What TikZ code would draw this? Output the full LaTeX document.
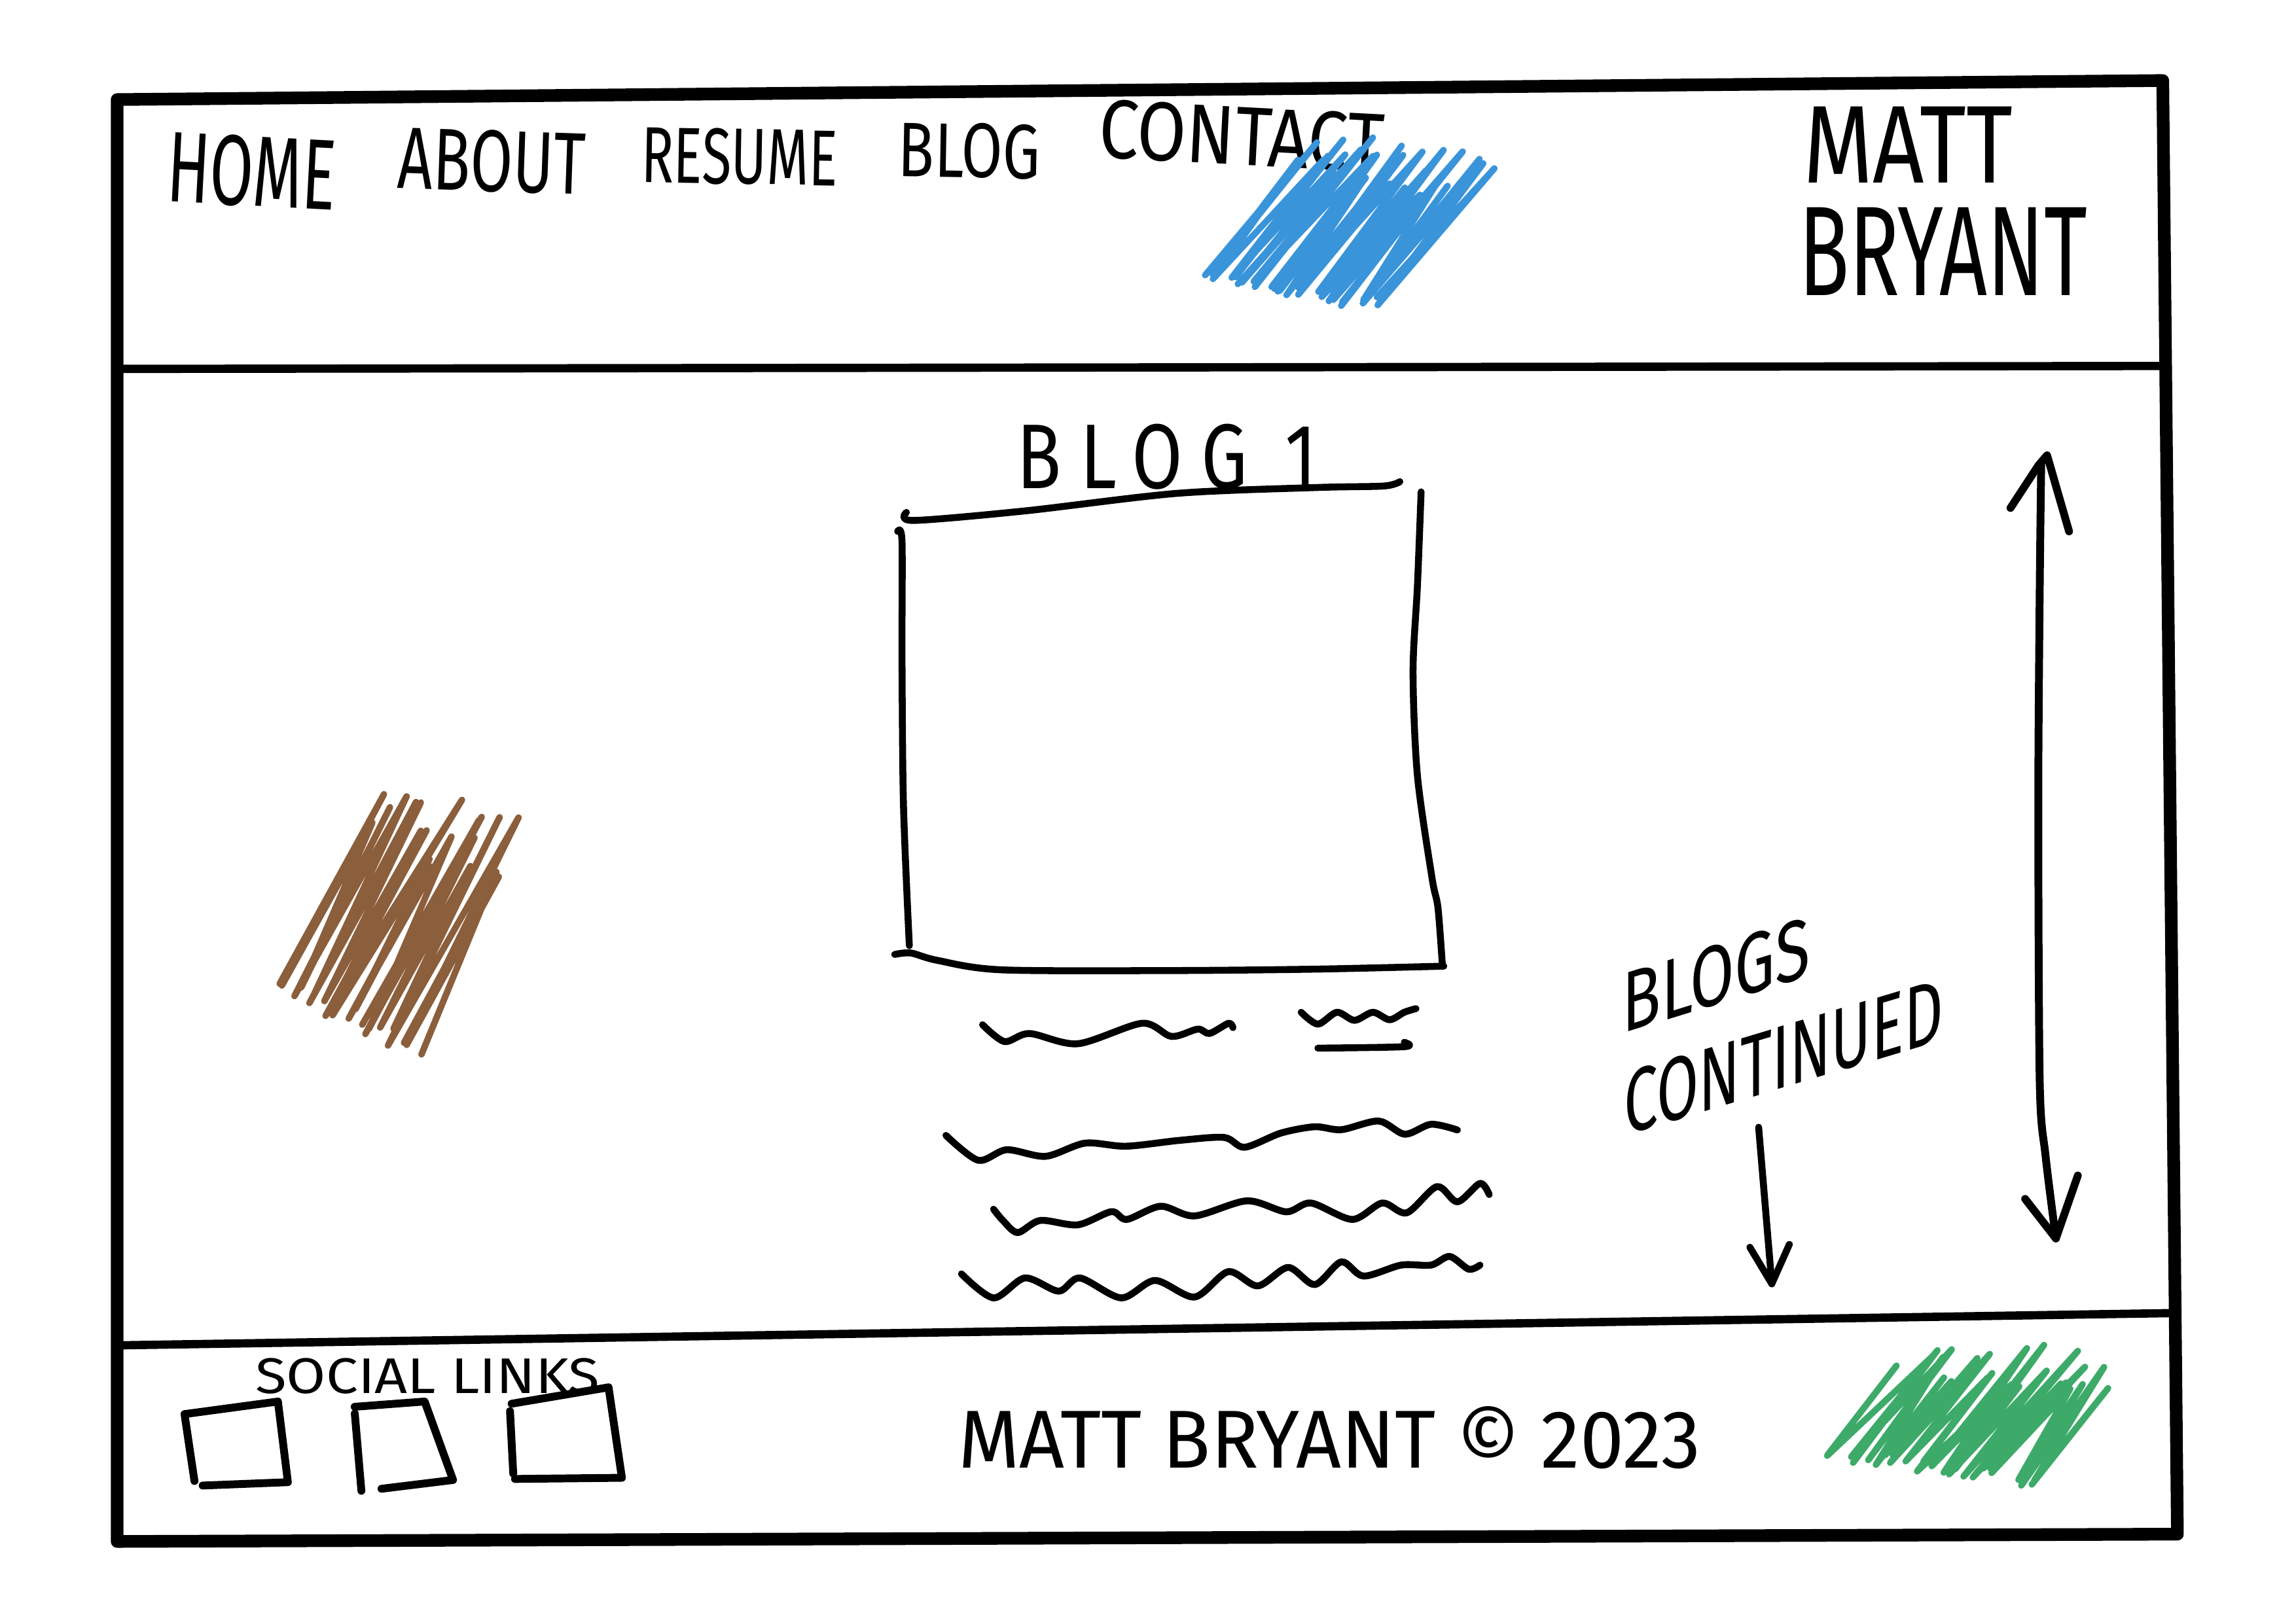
\documentclass[tikz,border=0pt]{standalone}
\usepackage{fontspec}
\setmainfont{Fira Sans}
\usepackage{graphicx}
\newlength\pu
\setlength\pu{0.022372cm}
\newcommand\hw[3]{\resizebox{#1\pu}{#2\pu}{#3}}
\definecolor{scribblue}{HTML}{3A94D9}
\definecolor{scribbrown}{HTML}{8B5E3C}
\definecolor{scribgreen}{HTML}{3DAA6A}
\newcommand\scrib[9]{%
  \pgfmathsetseed{#9}%
  \draw[scribstyle,#1] (#2,#3) \foreach \i [evaluate=\i as \f using {\i/#8},
     evaluate=\i as \s using {mod(\i,2)*(0.72+0.35*rnd)},
     evaluate=\i as \j using {7*rand},
     evaluate=\i as \k using {5*rand}] in {1,...,#8}
     { -- ({#2+\f*(#4)+\j+\s*(#6)},{#3+\f*(#5)+\k+\s*(#7)}) };
}
\begin{document}
\begin{tikzpicture}[x=0.022372cm,y=-0.022372cm, line cap=round, line join=round,
  frame/.style={line width=5.5pt},
  divider/.style={line width=3.6pt},
  ink/.style={line width=3pt},
  boxink/.style={line width=3.4pt},
  txt/.style={inner sep=0pt, outer sep=0pt},
  scribstyle/.style={line width=2.8pt}]
\fill[white] (0,0) rectangle (1568,1109);
\useasboundingbox (0,0) rectangle (1568,1109);

% outer frame and dividers
\coordinate (fTL) at (80,68);
\coordinate (fTR) at (1477,55);
\coordinate (fBR) at (1487,1048);
\coordinate (fBL) at (80,1053);
\draw[frame] (fTL) -- (fTR) -- (fBR) -- (fBL) -- cycle;
\coordinate (hL) at (82,252);
\coordinate (hR) at (1478,250);
\draw[divider] (hL) -- (hR);
\coordinate (ftL) at (82,919);
\coordinate (ftR) at (1483,897);
\draw[divider] (ftL) -- (ftR);

% navigation
\node[txt, rotate=-3] (navHome) at (172,117) {\hw{115}{48}{HOME}};
\node[txt, rotate=-2] (navAbout) at (336,110) {\hw{128}{42}{ABOUT}};
\node[txt, rotate=-1] (navResume) at (505,107) {\hw{134}{38}{RESUME}};
\node[txt, rotate=-1] (navBlog) at (662,103) {\hw{97}{37}{BLOG}};
\node[txt, rotate=-3] (navContact) at (848,93) {\hw{195}{40}{CONTACT}};

% brand
\node[txt] (brandA) at (1303,99) {\hw{143}{52}{MATT}};
\node[txt] (brandB) at (1327,172) {\hw{197}{60}{BRYANT}};

% scribbles
\scrib{scribblue}{823}{188}{118}{20}{78}{-98}{60}{11}
\scrib{scribbrown}{191}{672}{92}{44}{78}{-142}{40}{5}
\scrib{scribgreen}{1248}{994}{142}{18}{66}{-78}{48}{23}

% blog card
\node[txt, font=\addfontfeature{LetterSpace=25}] (blogTitle) at (797,312) {\hw{205}{44}{BLOG 1}};
\draw[ink] plot[smooth] coordinates {(619,350) (624,355.5) (700,349) (804,337) (900,333) (945,332) (956,329)};
\draw[ink] plot[smooth] coordinates {(613,363) (616,370) (616,450) (617,550) (621,646)};
\draw[ink] plot[smooth] coordinates {(970.5,336) (968,400) (965,459) (968,530) (978,600) (982,620) (985,659)};
\draw[ink] plot[smooth] coordinates {(611,652) (622,651) (640,656) (684,662.5) (800,663) (900,662) (986,660)};

% text lines
\draw[ink] plot[smooth] coordinates {(671,700) (686,711.5) (703,706) (736,713) (780,699) (800,708) (818,703) (826,706) (839,699) (842,702)};
\draw[ink] plot[smooth] coordinates {(888.6,691.5) (900,699.6) (913,691.5) (925,697) (937.6,691.5) (949,696.6) (959,691.5) (967,689)};
\draw[ink] plot[smooth] coordinates {(900,716) (959,715) (959,712)};
\draw[ink] plot[smooth] coordinates {(646,775.6) (668,792.6) (687.5,785.4) (714,789.9) (741,780.9) (769,783) (805.5,779) (836,777) (850,783.7) (874.8,774) (897.9,769.7) (916,771.7) (941.5,765.8) (959.4,774.8) (977.3,768) (995.3,771.9)};
\draw[ink] plot[smooth] coordinates {(678.5,826) (684.8,833.6) (695,842) (710.4,833.7) (736,836.7) (759,827.7) (769.5,833) (792.6,824) (815.8,830.6) (851.6,820.3) (878.4,827.8) (895.3,821.8) (923.5,833) (944,821.8) (960.7,828.5) (981.3,810.6) (995.3,821) (1010.7,808.4) (1017,816)};
\draw[ink] plot[smooth] coordinates {(656.6,870.2) (678.5,886.6) (700,873) (723,882) (737.5,873) (765.7,886.6) (788.8,874.7) (815.8,886) (838.8,868.7) (859,878.4) (879.7,865.8) (897.9,877.5) (916,862) (931.2,871.7) (956.9,864.2) (977.3,864.2) (990,858.3) (1003,867) (1010.7,864.2)};

% blogs continued
\node[txt, yslant=0.31] (contA) at (1172,666) {\hw{128}{41}{BLOGS}};
\node[txt, yslant=0.30] (contB) at (1218,722) {\hw{218}{43}{CONTINUED}};
\coordinate (dTop) at (1201,770);
\coordinate (dTip) at (1210,877);
\coordinate (dL) at (1195,852);
\coordinate (dR) at (1222,850);
\draw[ink] (dTop) -- (dTip);
\draw[ink] (dL) -- (dTip) -- (dR);

% scroll arrow
\coordinate (sTop) at (1394,316);
\coordinate (sTip) at (1398,311);
\coordinate (sTL) at (1373,347);
\coordinate (sTR) at (1413,363);
\coordinate (sBot) at (1404,846);
\coordinate (sBL) at (1383,819);
\coordinate (sBR) at (1419,803);
\draw[ink, line width=3.4pt] plot[smooth] coordinates {(sTop) (1393,400) (1392,550) (1393,740) (1397,790) (sBot)};
\draw[ink, line width=3.4pt] (sTL) -- (1392,318) -- (sTip) -- (sTR);
\draw[ink, line width=3.4pt] (sBL) -- (sBot) -- (sBR);

% footer
\node[txt] (socialLbl) at (292,940) {\hw{235}{24}{SOCIAL LINKS}};
\draw[boxink] (132.8,1011.7) -- (126,966) -- (189.8,957.4) -- (196.6,1012.5) -- (138.4,1014.8);
\draw[boxink] (242.2,961) -- (290,957.4) -- (309.4,1011) -- (260.5,1017);
\draw[boxink] (242.3,965.6) -- (246.8,1018.4);
\draw[boxink] (349.4,958.9) -- (415.6,947.7) -- (424.7,1009.5) -- (351.7,1010.3);
\draw[boxink] (348.3,964) -- (350.5,1006.6);
\node[txt] (credit) at (908,982) {\hw{507}{42}{MATT BRYANT © 2023}};
\end{tikzpicture}
\end{document}
